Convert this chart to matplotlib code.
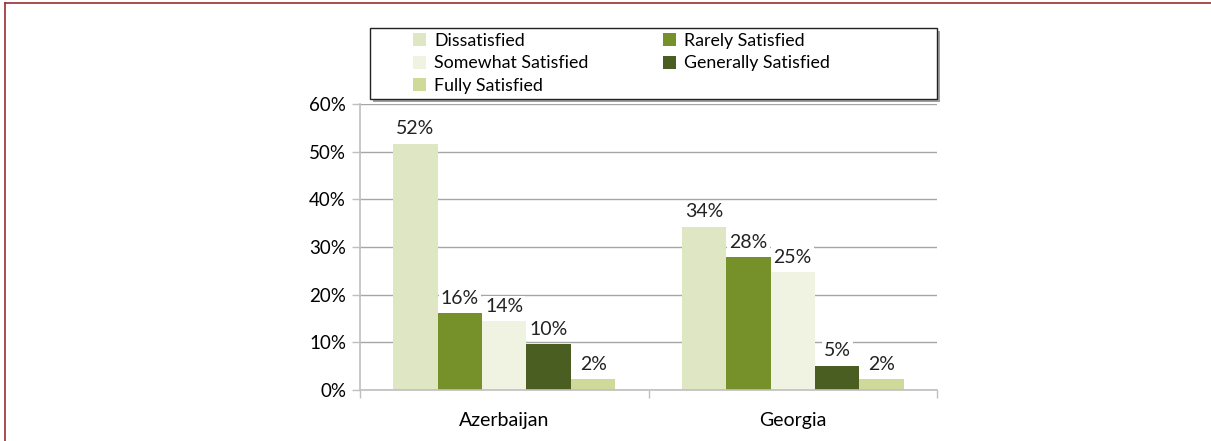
import matplotlib.pyplot as plt
import numpy as np
from matplotlib.lines import Line2D
from matplotlib.patches import Rectangle

plt.rcParams['font.family'] = ['Lato', 'DejaVu Sans']

countries = ['Azerbaijan', 'Georgia']
series = ['Dissatisfied', 'Rarely Satisfied', 'Somewhat Satisfied',
          'Generally Satisfied', 'Fully Satisfied']
dissatisfied = [51.7, 34.3]
rarely = [16.1, 27.9]
somewhat = [14.4, 24.8]
generally = [9.7, 5.1]
fully = [2.3, 2.3]
colors = ['#dfe6c3', '#76902a', '#f0f3e2', '#4a5e22', '#cfd99a']

values = [dissatisfied, rarely, somewhat, generally, fully]

W, H = 1211, 441
fig = plt.figure(figsize=(W / 100, H / 100), dpi=100)
ax = fig.add_axes([360 / W, 1 - 390 / H, 577 / W, 286 / H])

x = np.arange(len(countries))
w = 0.154
bars = []
for i, (name, vals, c) in enumerate(zip(series, values, colors)):
    b = ax.bar(x + (i - 2) * w, vals, w, color=c, label=name, zorder=2)
    bars.append(b)
    for rect, v in zip(b, vals):
        ax.text(rect.get_x() + rect.get_width() / 2, v + 1.3, f'{round(v)}%',
                ha='center', va='bottom', fontsize=14, color='#222222', zorder=3,
                bbox=dict(facecolor='white', edgecolor='none', pad=1.5))

ax.set_xlim(-0.5, 1.5)
ax.set_ylim(0, 60)
ax.set_yticks(range(0, 61, 10))
ax.set_yticklabels([f'{t}%' for t in range(0, 61, 10)], fontsize=13.5)
ax.yaxis.grid(True, color='#a6a6a6', linewidth=1, zorder=0)
ax.set_axisbelow(True)

ax.set_xticks(x)
ax.set_xticklabels(countries, fontsize=14)
ax.tick_params(axis='x', length=0, pad=16)
ax.set_xticks([-0.5, 0.5, 1.5], minor=True)
ax.tick_params(axis='x', which='minor', length=6, color='#bfbfbf', width=1)
ax.tick_params(axis='y', length=6, color='#bfbfbf', width=1, pad=4)

for s in ['top', 'right']:
    ax.spines[s].set_visible(False)
for s in ['left', 'bottom']:
    ax.spines[s].set_color('#bfbfbf')
    ax.spines[s].set_linewidth(1.2)

# legend frame with shadow
fig.add_artist(Rectangle((373 / W, 1 - 102 / H), 567 / W, 71 / H,
                         transform=fig.transFigure, facecolor='#a0a0a0',
                         edgecolor='none', zorder=4))
fig.add_artist(Rectangle((370 / W, 1 - 99 / H), 567 / W, 71 / H,
                         transform=fig.transFigure, facecolor='white',
                         edgecolor='#222222', linewidth=1, zorder=5))

# legend in two columns, row-major order
leg_kw = dict(loc='upper left', fontsize=12.8, frameon=False,
              handlelength=0.75, handleheight=0.75, handletextpad=0.45,
              labelspacing=0.36, borderpad=0, borderaxespad=0)
leg1 = fig.legend([bars[0], bars[2], bars[4]], [series[0], series[2], series[4]],
                  bbox_to_anchor=(413 / W, 1 - 33 / H), **leg_kw)
leg2 = fig.legend([bars[1], bars[3]], [series[1], series[3]],
                  bbox_to_anchor=(663 / W, 1 - 33 / H), **leg_kw)
leg1.set_zorder(6)
leg2.set_zorder(6)

# outer frame (top and left edges)
fig.add_artist(Line2D([5 / W, 1], [1 - 3 / H, 1 - 3 / H],
                      transform=fig.transFigure, color='#9b2d30', linewidth=1.2))
fig.add_artist(Line2D([5 / W, 5 / W], [0, 1 - 3 / H],
                      transform=fig.transFigure, color='#9b2d30', linewidth=1.2))

fig.savefig('out.png', dpi=100)
